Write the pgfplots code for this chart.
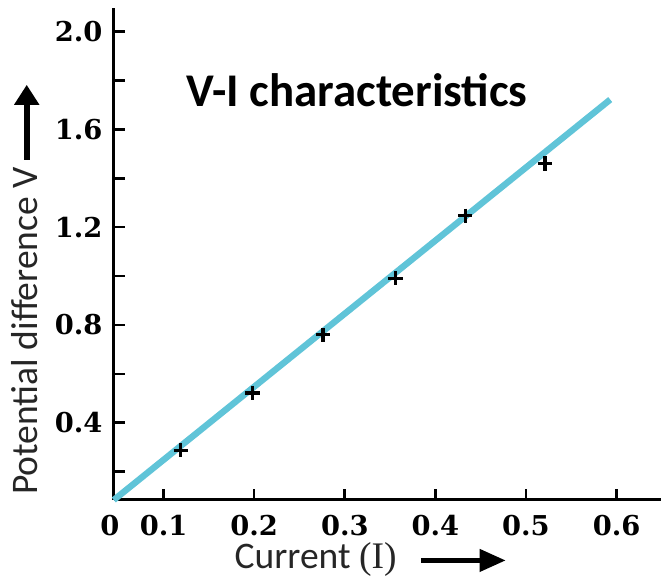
\documentclass[border=0pt]{standalone}
\usepackage{fontspec}
\setmainfont{Carlito}
\newfontfamily\tickfam{DejaVu Serif}
\newfontfamily\serifI{Liberation Serif}
\usepackage{pgfplots}
\pgfplotsset{compat=1.18}
\usetikzlibrary{arrows.meta}
\definecolor{vline}{RGB}{96,196,216}

\begin{document}
\begin{tikzpicture}
\begin{axis}[
    scale only axis, width=274pt, height=246.6pt,
    xmin=0.045, xmax=0.6485, ymin=0.084, ymax=2.097,
    axis x line=bottom, axis y line=left,
    axis line style={-, line width=1.5pt},
    tick align=inside, major tick length=5.5pt, minor tick length=5.5pt,
    tick style={line width=1.3pt, black},
    xtick={0.1,0.2,0.3,0.4,0.5,0.6},
    ytick={0.4,0.8,1.2,1.6,2.0},
    minor ytick={0.2,0.6,1.0,1.4,1.8},
    /pgf/number format/assume math mode=true,
    xticklabel style={/pgf/number format/fixed, /pgf/number format/precision=1,
                      anchor=north, inner sep=0pt, yshift=-7.5pt},
    yticklabel style={/pgf/number format/fixed, /pgf/number format/fixed zerofill,
                      /pgf/number format/precision=1,
                      anchor=east, inner sep=0pt, xshift=-5.5pt},
    ticklabel style={font=\tickfam\bfseries\fontsize{13.7}{16}\selectfont},
    clip=false,
]
% fitted line
\addplot[vline, line width=3.2pt] coordinates {(0.045,0.084) (0.593,1.722)};
% measured points
\addplot[only marks, mark=+, mark size=3.6pt, mark options={line width=1.6pt, black}]
  coordinates {(0.119,0.288) (0.198,0.522) (0.276,0.760) (0.356,0.991) (0.433,1.247) (0.521,1.461)};

% origin label
\node[anchor=north, inner sep=0pt, yshift=-7.5pt, font=\tickfam\bfseries\fontsize{13.7}{16}\selectfont] at (axis cs:0.0406,0.084) {0};
\node[anchor=base west, font=\bfseries\fontsize{23.5}{28}\selectfont] at (axis cs:0.1177,1.6927) {V-I characteristics};
\node[anchor=base west, rotate=90, text=black!85, font=\fontsize{18.8}{22}\selectfont] at (axis cs:-0.0387,0.0763) {Potential difference V};
\draw[line width=3pt, -{Triangle[width=12pt,length=10pt]}] (axis cs:-0.0511,1.4763) -- (axis cs:-0.0511,1.7824);
\node[anchor=base west, text=black!85, font=\fontsize{18.8}{22}\selectfont] at (axis cs:0.1706,-0.1971) {Current {\serifI (I)}};
\draw[line width=2.2pt, -{Triangle[width=11pt,length=13pt]}] (axis cs:0.3839,-0.1633) -- (axis cs:0.4775,-0.1633);
\path (axis cs:-0.0806,-0.2216) rectangle (axis cs:0.6485,2.1294);
\end{axis}
\end{tikzpicture}
\end{document}
